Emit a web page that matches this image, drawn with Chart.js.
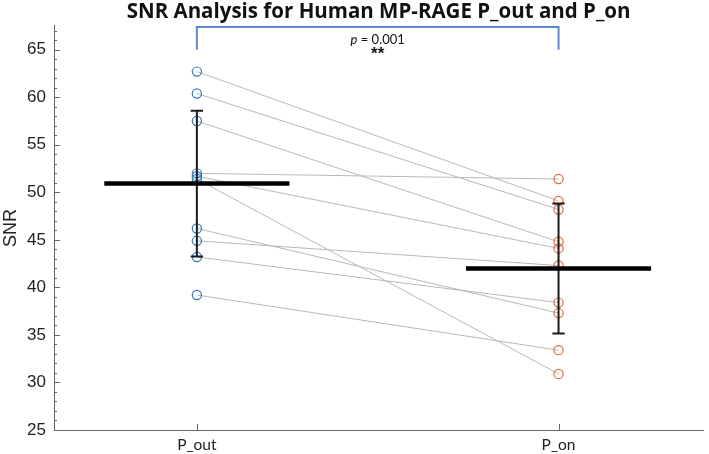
<!DOCTYPE html>
<html>
<head>
<meta charset="utf-8">
<script src="https://cdn.jsdelivr.net/npm/chart.js@4.4.1/dist/chart.umd.min.js"></script>
<style>
  html, body { margin: 0; padding: 0; background: #fff; }
</style>
</head>
<body>
<canvas id="snrChart" width="709" height="454"></canvas>
<script>
// groups on the x axis (placed at x = 1 and x = 2)
const groups = ["P_out", "P_on"];

// SNR per subject, same order in both arrays (each pair joined by a grey line)
const snrOut = [62.7, 60.4, 57.5, 52.0, 51.7, 51.4, 46.2, 44.9, 43.2, 39.2];
const snrOn  = [49.1, 48.2, 44.8, 51.4, 44.1, 30.9, 37.3, 42.3, 38.4, 33.4];

// y axis tick labels
const yTicks = [25, 30, 35, 40, 45, 50, 55, 60, 65];

// significance bracket text
const pValue = "0.001";
const stars = "**";

// colours
const blue = "#2f7bc6";
const orange = "#e4673a";
const pairGrey = "#b8b8b8";
const axisColor = "#666";
const bracketBlue = "#5b8ad0";

// sizes / positions (in data units)
const meanHalfWidth = 0.256;
const capHalfWidth = 0.017;
const bracketLow = 65;
const bracketHigh = 67.4;
const pTextLevel = 66.05;
const starsLevel = 64.95;

// mean and sample standard deviation of a list
function mean(arr) {
  return arr.reduce((a, b) => a + b, 0) / arr.length;
}
function sd(arr) {
  const m = mean(arr);
  const ss = arr.reduce((a, b) => a + (b - m) * (b - m), 0);
  return Math.sqrt(ss / (arr.length - 1));
}

const series = [snrOut, snrOn];
const datasets = [];

// grey lines joining each subject's two values
snrOut.forEach((v, i) => {
  datasets.push({
    data: [{ x: 1, y: v }, { x: 2, y: snrOn[i] }],
    showLine: true,
    borderColor: pairGrey,
    borderWidth: 1,
    pointRadius: 0,
    order: 10,
  });
});

// hollow circles for each group
[blue, orange].forEach((col, g) => {
  datasets.push({
    data: series[g].map((v) => ({ x: g + 1, y: v })),
    pointRadius: 4.6,
    pointBorderWidth: 1.2,
    pointBorderColor: col,
    pointBackgroundColor: "rgba(0,0,0,0)",
    order: 5,
  });
});

// error bars (mean +- SD) and thick mean lines
series.forEach((arr, g) => {
  const x = g + 1;
  const m = mean(arr);
  const s = sd(arr);
  const lineStyle = { showLine: true, pointRadius: 0, borderColor: "#1a1a1a", borderWidth: 2, order: 3 };
  datasets.push(Object.assign({ data: [{ x: x, y: m - s }, { x: x, y: m + s }] }, lineStyle));
  datasets.push(Object.assign({ data: [{ x: x - capHalfWidth, y: m + s }, { x: x + capHalfWidth, y: m + s }] }, lineStyle));
  datasets.push(Object.assign({ data: [{ x: x - capHalfWidth, y: m - s }, { x: x + capHalfWidth, y: m - s }] }, lineStyle));
  datasets.push({
    data: [{ x: x - meanHalfWidth, y: m }, { x: x + meanHalfWidth, y: m }],
    showLine: true,
    pointRadius: 0,
    borderColor: "#000",
    borderWidth: 4.5,
    order: 1,
  });
});

// significance bracket
datasets.push({
  data: [
    { x: 1, y: bracketLow },
    { x: 1, y: bracketHigh },
    { x: 2, y: bracketHigh },
    { x: 2, y: bracketLow },
  ],
  showLine: true,
  pointRadius: 0,
  borderColor: bracketBlue,
  borderWidth: 2,
  clip: false,
  order: 0,
});

// draw text so that its visible glyphs are centred on cy
function fillCentredY(ctx, text, x, cy) {
  ctx.textBaseline = "alphabetic";
  const m = ctx.measureText(text);
  const base = cy + (m.actualBoundingBoxAscent - m.actualBoundingBoxDescent) / 2;
  ctx.fillText(text, x, base);
}

// inward tick marks (MATLAB style) and the p-value text
const axisDecor = {
  id: "axisDecor",
  afterDatasetsDraw(chart) {
    const { ctx, chartArea, scales } = chart;
    const x = scales.x;
    const y = scales.y;
    ctx.save();
    ctx.strokeStyle = axisColor;
    ctx.lineWidth = 1;
    for (let v = Math.ceil(y.min); v <= y.max; v++) {
      const py = Math.round(y.getPixelForValue(v)) + 0.5;
      const len = v % 5 === 0 ? 6 : 3;
      ctx.beginPath();
      ctx.moveTo(chartArea.left, py);
      ctx.lineTo(chartArea.left + len, py);
      ctx.stroke();
    }
    [1, 2].forEach((v) => {
      const px = Math.round(x.getPixelForValue(v)) + 0.5;
      ctx.beginPath();
      ctx.moveTo(px, chartArea.bottom);
      ctx.lineTo(px, chartArea.bottom - 6);
      ctx.stroke();
    });

    // p = 0.001 and ** centred under the bracket
    const cx = (x.getPixelForValue(1) + x.getPixelForValue(2)) / 2;
    ctx.fillStyle = "#111";
    ctx.font = "italic 13px Lato";
    const pW = ctx.measureText("p").width;
    ctx.font = "13px Lato";
    const rest = " = " + pValue;
    const rW = ctx.measureText(rest).width;
    const left = cx - (pW + rW) / 2;
    const ty = y.getPixelForValue(pTextLevel);
    ctx.textAlign = "left";
    ctx.textBaseline = "middle";
    ctx.font = "italic 13px Lato";
    ctx.fillText("p", left, ty);
    ctx.font = "13px Lato";
    ctx.fillText(rest, left + pW, ty);
    ctx.font = "bold 17px 'Liberation Sans'";
    ctx.textAlign = "center";
    fillCentredY(ctx, stars, cx, y.getPixelForValue(starsLevel));
    ctx.restore();
  },
};

new Chart(document.getElementById("snrChart"), {
  type: "scatter",
  data: { datasets: datasets },
  options: {
    responsive: false,
    animation: false,
    devicePixelRatio: 1,
    layout: { padding: { top: 0, right: 0, bottom: 0, left: 0 } },
    plugins: {
      legend: { display: false },
      tooltip: { enabled: false },
      title: {
        display: true,
        text: "SNR Analysis for Human MP-RAGE P_out and P_on",
        fullSize: false,
        color: "#111",
        font: { family: "Open Sans", size: 20.5, weight: "bold", lineHeight: 1.15 },
        padding: { top: 0, bottom: 2.4 },
      },
    },
    scales: {
      x: {
        type: "linear",
        min: 0.605,
        max: 2.4,
        grid: { display: false, drawTicks: false },
        border: { display: true, color: axisColor, width: 1 },
        afterBuildTicks: (scale) => {
          scale.ticks = groups.map((g, i) => ({ value: i + 1 }));
        },
        afterFit: (scale) => {
          scale.height = 24;
        },
        ticks: {
          padding: 6,
          color: "#222",
          font: { family: "Lato", size: 15.5 },
          callback: (v) => groups[v - 1],
        },
      },
      y: {
        type: "linear",
        min: 25,
        max: 67.5,
        grid: { display: false, drawTicks: false },
        border: { display: true, color: axisColor, width: 1 },
        afterBuildTicks: (scale) => {
          scale.ticks = yTicks.map((v) => ({ value: v }));
        },
        afterFit: (scale) => {
          scale.width = 54;
        },
        ticks: {
          padding: 8,
          color: "#222",
          font: { family: "Liberation Sans", size: 17 },
        },
        title: {
          display: true,
          text: "SNR",
          color: "#222",
          font: { family: "Liberation Sans", size: 18 },
          padding: { top: 0, bottom: 0 },
        },
      },
    },
  },
  plugins: [axisDecor],
});
</script>
</body>
</html>
